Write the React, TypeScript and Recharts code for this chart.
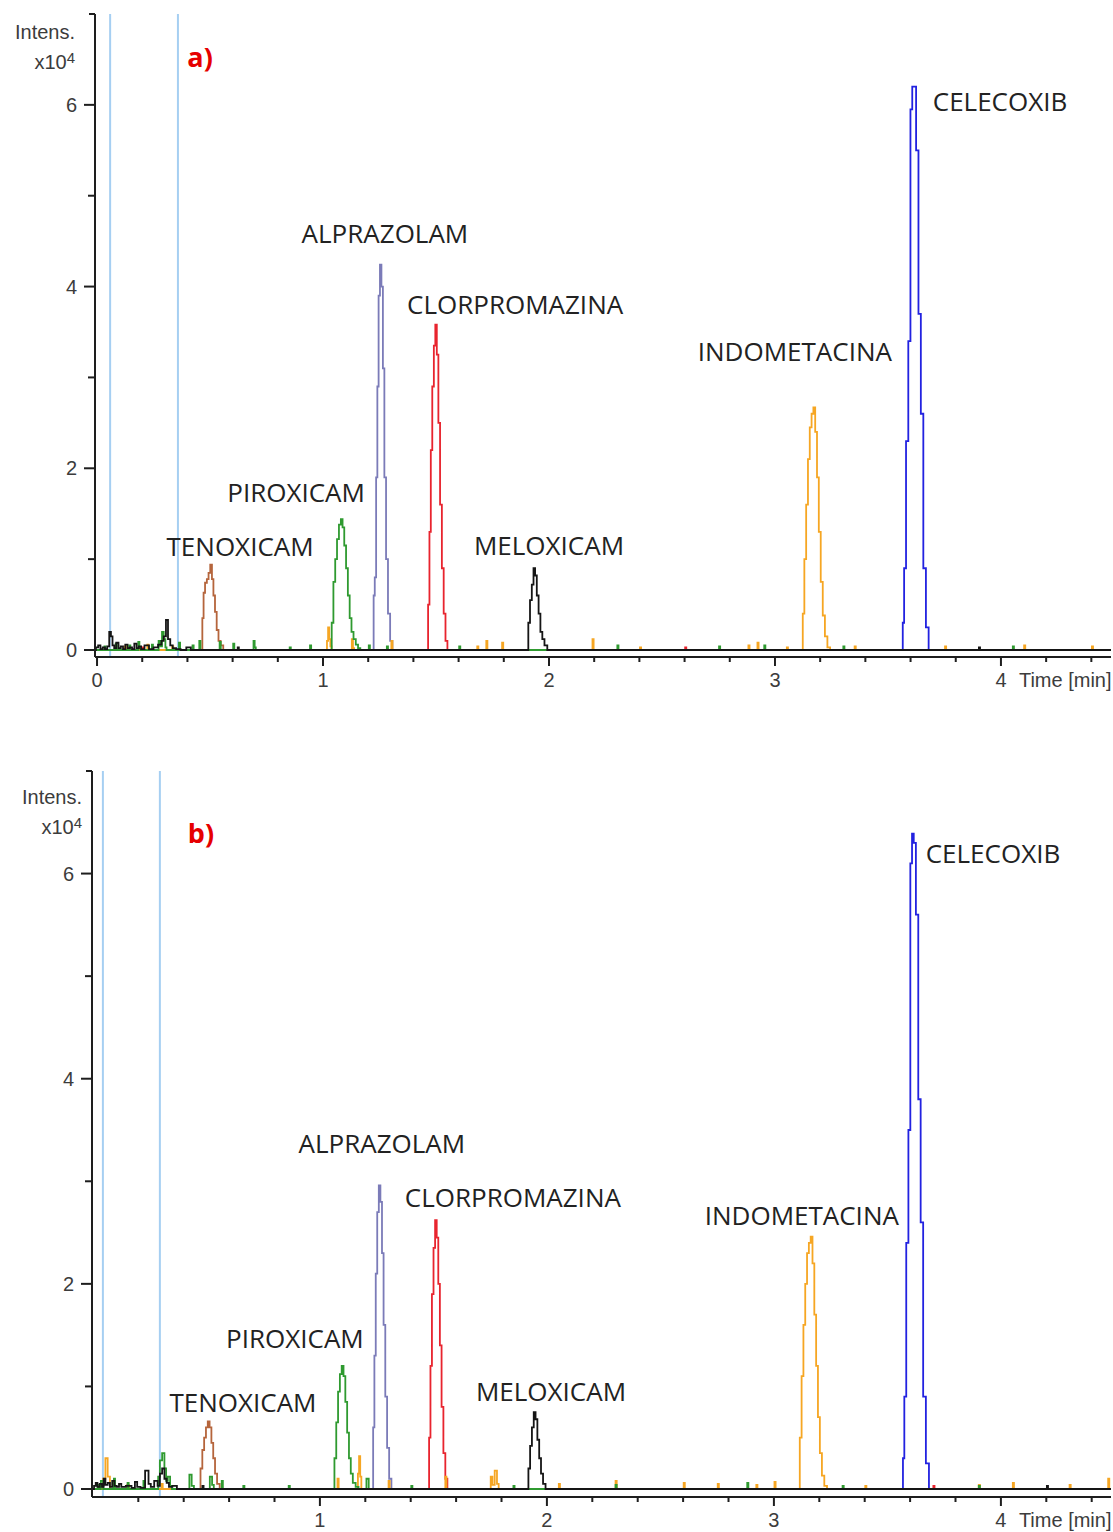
import { LineChart, Line, XAxis, YAxis, ReferenceLine, ReferenceDot } from "recharts";

type Pt = [number, number];

/* ── colours ─────────────────────────────────────────────────────── */

const TENOX = "#b5653c";
const PIROX = "#2f9a30";
const ALPRA = "#7b7bb8";
const CLORP = "#e8242e";
const MELOX = "#151515";
const INDOM = "#f6a623";
const CELEC = "#2222e0";
const MARKER = "#a6cff2";
const AXIS = "#1e1e1e";
const TXT = "#3c3c3c";

/* ── panel a) data (time [min], intensity x10^4) ─────────────────── */

const tenoxicamA: Pt[] = [[-0.01, 0], [0.463, 0], [0.469, 0.35], [0.474, 0.63], [0.482, 0.74], [0.49, 0.78], [0.497, 0.85], [0.505, 0.94], [0.512, 0.78], [0.518, 0.6], [0.526, 0.42], [0.533, 0.22], [0.542, 0.1], [0.552, 0.05], [0.565, 0], [4.487, 0]];

const piroxicamA: Pt[] = [[-0.01, 0], [0.03, 0], [0.035, 0.04], [0.04, 0], [0.08, 0], [0.085, 0.07], [0.09, 0], [0.14, 0], [0.145, 0.05], [0.15, 0], [0.18, 0], [0.185, 0.09], [0.19, 0.02], [0.195, 0], [0.24, 0], [0.245, 0.06], [0.25, 0], [0.27, 0], [0.275, 0.1], [0.285, 0.04], [0.29, 0.2], [0.3, 0.12], [0.305, 0.03], [0.31, 0], [0.36, 0], [0.365, 0.08], [0.37, 0], [0.42, 0], [0.425, 0.05], [0.43, 0], [0.45, 0], [0.455, 0.1], [0.46, 0], [0.54, 0], [0.545, 0.09], [0.55, 0], [0.6, 0], [0.605, 0.07], [0.61, 0], [0.69, 0], [0.695, 0.1], [0.7, 0.03], [0.705, 0], [0.85, 0], [0.855, 0.03], [0.86, 0], [0.94, 0], [0.945, 0.05], [0.95, 0], [1.035, 0], [1.042, 0.3], [1.05, 0.75], [1.058, 1.0], [1.066, 1.22], [1.075, 1.38], [1.083, 1.44], [1.09, 1.35], [1.098, 1.15], [1.106, 0.9], [1.114, 0.6], [1.122, 0.35], [1.13, 0.2], [1.14, 0.12], [1.15, 0.06], [1.16, 0.02], [1.17, 0], [1.2, 0], [1.205, 0.05], [1.21, 0], [1.28, 0], [1.285, 0.04], [1.29, 0], [1.6, 0], [1.605, 0.04], [1.61, 0], [2.3, 0], [2.305, 0.05], [2.31, 0], [2.75, 0], [2.755, 0.04], [2.76, 0], [2.95, 0], [2.955, 0.05], [2.96, 0], [3.3, 0], [3.305, 0.04], [3.31, 0], [4.05, 0], [4.055, 0.04], [4.06, 0], [4.487, 0]];

const alprazolamA: Pt[] = [[-0.01, 0], [1.222, 0], [1.226, 0.6], [1.232, 0.8], [1.238, 1.9], [1.243, 2.9], [1.249, 3.9], [1.255, 4.24], [1.262, 4.0], [1.268, 3.1], [1.275, 1.9], [1.283, 1.0], [1.292, 0.4], [1.302, 0.1], [1.312, 0], [4.487, 0]];

const clorpromazinaA: Pt[] = [[-0.01, 0], [0.2, 0], [0.205, 0.03], [0.21, 0], [1.462, 0], [1.468, 0.5], [1.474, 1.3], [1.48, 2.2], [1.487, 2.9], [1.494, 3.35], [1.5, 3.58], [1.507, 3.25], [1.514, 2.5], [1.522, 1.6], [1.53, 0.9], [1.538, 0.4], [1.546, 0.1], [1.555, 0], [2.6, 0], [2.605, 0.03], [2.61, 0], [4.487, 0]];

const meloxicamA: Pt[] = [[-0.01, 0], [0.0, 0.03], [0.01, 0.05], [0.02, 0.01], [0.03, 0.03], [0.04, 0.01], [0.05, 0.04], [0.058, 0.2], [0.065, 0.15], [0.072, 0.05], [0.08, 0.02], [0.09, 0.08], [0.1, 0.02], [0.11, 0.04], [0.12, 0.01], [0.13, 0.06], [0.14, 0.02], [0.15, 0.03], [0.16, 0.01], [0.17, 0.07], [0.18, 0.02], [0.19, 0.04], [0.2, 0.01], [0.22, 0.05], [0.24, 0.01], [0.26, 0.03], [0.28, 0.06], [0.29, 0.1], [0.3, 0.15], [0.31, 0.33], [0.318, 0.12], [0.33, 0.05], [0.34, 0.02], [0.36, 0.01], [0.38, 0], [0.41, 0.03], [0.42, 0], [0.62, 0], [0.625, 0.03], [0.63, 0], [1.905, 0], [1.912, 0.3], [1.92, 0.55], [1.928, 0.72], [1.935, 0.9], [1.942, 0.82], [1.95, 0.6], [1.958, 0.4], [1.966, 0.2], [1.975, 0.12], [1.985, 0.05], [2.0, 0], [3.9, 0], [3.905, 0.03], [3.91, 0], [4.487, 0]];

const indometacinaA: Pt[] = [[-0.01, 0], [0.12, 0], [0.125, 0.04], [0.13, 0], [0.22, 0], [0.225, 0.06], [0.23, 0], [0.33, 0], [0.335, 0.04], [0.34, 0], [1.015, 0], [1.02, 0.1], [1.025, 0.25], [1.03, 0.12], [1.035, 0.04], [1.04, 0], [1.125, 0], [1.13, 0.12], [1.135, 0.02], [1.14, 0], [1.3, 0], [1.305, 0.1], [1.31, 0], [1.68, 0], [1.685, 0.04], [1.69, 0], [1.72, 0], [1.725, 0.1], [1.73, 0], [1.79, 0], [1.795, 0.08], [1.8, 0], [2.19, 0], [2.195, 0.12], [2.2, 0], [2.4, 0], [2.405, 0.03], [2.41, 0], [2.88, 0], [2.885, 0.05], [2.89, 0], [2.92, 0], [2.925, 0.08], [2.93, 0], [3.05, 0], [3.055, 0.03], [3.06, 0], [3.12, 0], [3.126, 0.4], [3.134, 1.0], [3.142, 1.6], [3.15, 2.1], [3.158, 2.45], [3.166, 2.6], [3.174, 2.67], [3.182, 2.4], [3.19, 1.9], [3.198, 1.3], [3.207, 0.75], [3.216, 0.38], [3.226, 0.15], [3.238, 0.03], [3.25, 0], [3.35, 0], [3.355, 0.04], [3.36, 0], [3.75, 0], [3.755, 0.04], [3.76, 0], [4.1, 0], [4.105, 0.05], [4.11, 0], [4.4, 0], [4.405, 0.04], [4.41, 0], [4.487, 0]];

const celecoxibA: Pt[] = [[-0.01, 0], [3.563, 0], [3.568, 0.3], [3.575, 0.9], [3.585, 2.3], [3.595, 3.4], [3.604, 5.95], [3.611, 6.2], [3.619, 6.2], [3.63, 5.5], [3.64, 3.7], [3.651, 2.6], [3.662, 0.9], [3.674, 0.25], [3.686, 0], [4.487, 0]];

const markersA = [0.058, 0.358];

/* ── panel b) data ───────────────────────────────────────────────── */

const tenoxicamB: Pt[] = [[0, 0], [0.47, 0], [0.478, 0.2], [0.486, 0.38], [0.494, 0.5], [0.502, 0.6], [0.51, 0.66], [0.518, 0.6], [0.526, 0.45], [0.534, 0.3], [0.542, 0.15], [0.552, 0.05], [0.565, 0], [4.485, 0]];

const piroxicamB: Pt[] = [[0, 0], [0.02, 0], [0.025, 0.04], [0.03, 0], [0.04, 0.08], [0.05, 0], [0.09, 0], [0.095, 0.1], [0.1, 0], [0.15, 0], [0.155, 0.06], [0.16, 0], [0.22, 0], [0.225, 0.08], [0.23, 0], [0.285, 0], [0.29, 0.12], [0.3, 0.28], [0.31, 0.35], [0.32, 0.2], [0.325, 0.08], [0.335, 0.12], [0.345, 0.03], [0.35, 0], [0.42, 0], [0.43, 0.14], [0.44, 0.03], [0.45, 0], [0.51, 0], [0.52, 0.12], [0.53, 0.04], [0.535, 0], [0.565, 0], [0.57, 0.08], [0.575, 0], [0.66, 0], [0.665, 0.03], [0.67, 0], [0.86, 0], [0.865, 0.03], [0.87, 0], [1.06, 0], [1.068, 0.3], [1.076, 0.65], [1.084, 0.95], [1.092, 1.12], [1.1, 1.2], [1.108, 1.1], [1.116, 0.85], [1.124, 0.55], [1.132, 0.3], [1.14, 0.15], [1.15, 0.06], [1.165, 0.02], [1.175, 0], [1.2, 0], [1.21, 0.1], [1.22, 0], [1.4, 0], [1.405, 0.03], [1.41, 0], [1.85, 0], [1.855, 0.03], [1.86, 0], [2.3, 0], [2.305, 0.04], [2.31, 0], [2.88, 0], [2.885, 0.06], [2.89, 0], [3.3, 0], [3.305, 0.03], [3.31, 0], [3.9, 0], [3.905, 0.03], [3.91, 0], [4.485, 0]];

const alprazolamB: Pt[] = [[0, 0], [1.232, 0], [1.237, 0.6], [1.243, 1.3], [1.249, 2.1], [1.256, 2.7], [1.263, 2.96], [1.27, 2.8], [1.277, 2.3], [1.284, 1.6], [1.292, 0.9], [1.3, 0.4], [1.31, 0.1], [1.32, 0], [4.485, 0]];

const clorpromazinaB: Pt[] = [[0, 0], [0.15, 0], [0.155, 0.04], [0.16, 0], [1.478, 0], [1.484, 0.5], [1.49, 1.2], [1.497, 1.9], [1.504, 2.35], [1.511, 2.62], [1.518, 2.45], [1.525, 2.0], [1.532, 1.4], [1.54, 0.8], [1.548, 0.35], [1.557, 0.1], [1.566, 0], [3.7, 0], [3.705, 0.03], [3.71, 0], [4.485, 0]];

const meloxicamB: Pt[] = [[0, 0], [0.01, 0.03], [0.015, 0.06], [0.025, 0.02], [0.035, 0.05], [0.045, 0.02], [0.05, 0.1], [0.06, 0.04], [0.07, 0.06], [0.08, 0.02], [0.09, 0.08], [0.1, 0.03], [0.11, 0.02], [0.12, 0.05], [0.13, 0.02], [0.16, 0.03], [0.18, 0.01], [0.19, 0.07], [0.2, 0.02], [0.22, 0.01], [0.24, 0.18], [0.25, 0.05], [0.26, 0.02], [0.28, 0.08], [0.29, 0.03], [0.3, 0.15], [0.31, 0.2], [0.32, 0.1], [0.33, 0.06], [0.34, 0.02], [0.36, 0.03], [0.38, 0], [0.48, 0], [0.485, 0.03], [0.49, 0], [1.915, 0], [1.922, 0.2], [1.93, 0.42], [1.938, 0.6], [1.946, 0.75], [1.954, 0.68], [1.962, 0.48], [1.97, 0.3], [1.978, 0.15], [1.988, 0.05], [2.0, 0], [4.2, 0], [4.205, 0.03], [4.21, 0], [4.485, 0]];

const indometacinaB: Pt[] = [[0, 0], [0.04, 0], [0.05, 0.1], [0.06, 0.3], [0.07, 0.12], [0.08, 0], [0.15, 0], [0.155, 0.04], [0.16, 0], [0.3, 0], [0.305, 0.05], [0.31, 0], [1.075, 0], [1.08, 0.1], [1.085, 0], [1.165, 0], [1.17, 0.15], [1.175, 0.32], [1.18, 0.12], [1.185, 0], [1.3, 0], [1.305, 0.08], [1.31, 0], [1.55, 0], [1.555, 0.12], [1.56, 0], [1.75, 0], [1.755, 0.12], [1.765, 0.04], [1.775, 0.18], [1.785, 0.05], [1.79, 0], [2.05, 0], [2.055, 0.05], [2.06, 0], [2.3, 0], [2.305, 0.08], [2.31, 0], [2.6, 0], [2.605, 0.06], [2.61, 0], [2.75, 0], [2.755, 0.05], [2.76, 0], [2.92, 0], [2.925, 0.04], [2.93, 0], [3.0, 0], [3.005, 0.07], [3.01, 0], [3.11, 0], [3.118, 0.5], [3.126, 1.1], [3.134, 1.6], [3.142, 2.0], [3.15, 2.3], [3.158, 2.4], [3.166, 2.46], [3.174, 2.2], [3.182, 1.7], [3.19, 1.2], [3.198, 0.7], [3.207, 0.35], [3.216, 0.13], [3.228, 0.03], [3.24, 0], [3.4, 0], [3.405, 0.03], [3.41, 0], [3.9, 0], [3.905, 0.04], [3.91, 0], [4.05, 0], [4.055, 0.06], [4.06, 0], [4.3, 0], [4.305, 0.04], [4.31, 0], [4.47, 0], [4.475, 0.1], [4.48, 0], [4.485, 0]];

const celecoxibB: Pt[] = [[0, 0], [3.566, 0], [3.571, 0.3], [3.578, 0.9], [3.588, 2.4], [3.597, 3.5], [3.605, 6.1], [3.612, 6.39], [3.62, 6.3], [3.631, 5.6], [3.641, 3.8], [3.652, 2.6], [3.663, 0.9], [3.676, 0.25], [3.69, 0], [4.485, 0]];

const markersB = [0.044, 0.295];

/* ── axes & annotations ──────────────────────────────────────────── */

const yTicks = [0, 1, 2, 3, 4, 5, 6, 7];
const xTicksA = [0, 0.2, 0.4, 0.6, 0.8, 1, 1.2, 1.4, 1.6, 1.8, 2, 2.2, 2.4, 2.6, 2.8, 3, 3.2, 3.4, 3.6, 3.8, 4, 4.2, 4.4];
const xTicksB = [0.2, 0.4, 0.6, 0.8, 1, 1.2, 1.4, 1.6, 1.8, 2, 2.2, 2.4, 2.6, 2.8, 3, 3.2, 3.4, 3.6, 3.8, 4, 4.2, 4.4];

const labelNames = ["TENOXICAM", "PIROXICAM", "ALPRAZOLAM", "CLORPROMAZINA", "MELOXICAM", "INDOMETACINA", "CELECOXIB"];
const labelSpotsA: Pt[] = [[0.633, 1.14], [0.881, 1.74], [1.274, 4.59], [1.85, 3.81], [2.0, 1.16], [3.088, 3.29], [3.996, 6.04]];
const labelSpotsB: Pt[] = [[0.661, 0.85], [0.89, 1.47], [1.273, 3.37], [1.85, 2.85], [2.018, 0.96], [3.123, 2.67], [3.965, 6.2]];

type Trace = { name: string; color: string; points: Pt[] };

const tracesA: Trace[] = [
  { name: "tenoxicam", color: TENOX, points: tenoxicamA },
  { name: "alprazolam", color: ALPRA, points: alprazolamA },
  { name: "clorpromazina", color: CLORP, points: clorpromazinaA },
  { name: "celecoxib", color: CELEC, points: celecoxibA },
  { name: "indometacina", color: INDOM, points: indometacinaA },
  { name: "piroxicam", color: PIROX, points: piroxicamA },
  { name: "meloxicam", color: MELOX, points: meloxicamA },
];

const tracesB: Trace[] = [
  { name: "tenoxicam", color: TENOX, points: tenoxicamB },
  { name: "alprazolam", color: ALPRA, points: alprazolamB },
  { name: "clorpromazina", color: CLORP, points: clorpromazinaB },
  { name: "celecoxib", color: CELEC, points: celecoxibB },
  { name: "indometacina", color: INDOM, points: indometacinaB },
  { name: "piroxicam", color: PIROX, points: piroxicamB },
  { name: "meloxicam", color: MELOX, points: meloxicamB },
];

const toRows = (pts: Pt[]) => pts.map(([t, v]) => ({ t, v }));

const tickFont = { fontFamily: "'Liberation Sans', Arial, sans-serif", fontSize: 20, fill: TXT };

function YTick({ x, y, payload }: any) {
  const v = payload.value;
  const len = v === 7 ? 6 : v % 2 === 0 ? 11 : 7;
  return (
    <g>
      <line x1={x - len} x2={x} y1={y} y2={y} stroke={AXIS} strokeWidth={2} />
      {v % 2 === 0 && (
        <text x={x - 18} y={y} dominantBaseline="central" textAnchor="end" {...tickFont}>
          {v}
        </text>
      )}
    </g>
  );
}

function XTick({ x, y, payload }: any) {
  const v = payload.value;
  const major = Number.isInteger(v);
  return (
    <g>
      <line x1={x} x2={x} y1={y} y2={y + (major ? 9 : 5)} stroke={AXIS} strokeWidth={2} />
      {major && (
        <text x={x} y={y + 23} dominantBaseline="central" textAnchor="middle" {...tickFont}>
          {v}
        </text>
      )}
      {v === 4 && (
        <text x={x + 18} y={y + 23} dominantBaseline="central" textAnchor="start" {...tickFont}>
          Time [min]
        </text>
      )}
    </g>
  );
}

function Chromatogram({
  traces,
  markers,
  spots,
  tag,
  tagSpot,
  xDomain,
  xTicks,
  yMin,
  height,
  margin,
}: {
  traces: Trace[];
  markers: number[];
  spots: Pt[];
  tag: string;
  tagSpot: Pt;
  xDomain: [number, number];
  xTicks: number[];
  yMin: number;
  height: number;
  margin: { top: number; right: number; bottom: number; left: number };
}) {
  return (
    <LineChart width={1113} height={height} margin={margin}>
      <XAxis
        type="number"
        dataKey="t"
        domain={xDomain}
        ticks={xTicks}
        interval={0}
        allowDataOverflow
        height={30}
        tickSize={0}
        tickMargin={0}
        tickLine={false}
        axisLine={{ stroke: AXIS, strokeWidth: 2 }}
        tick={(p: any) => <XTick {...p} />}
      />
      <YAxis
        type="number"
        domain={[yMin, 7]}
        ticks={yTicks}
        interval={0}
        allowDataOverflow
        width={60}
        tickSize={0}
        tickMargin={0}
        tickLine={false}
        axisLine={{ stroke: AXIS, strokeWidth: 2 }}
        tick={(p: any) => <YTick {...p} />}
      />
      {markers.map((m) => (
        <ReferenceLine key={m} x={m} stroke={MARKER} strokeWidth={2} />
      ))}
      {traces.map((tr) => (
        <Line
          key={tr.name}
          data={toRows(tr.points)}
          dataKey="v"
          type="step"
          stroke={tr.color}
          strokeWidth={1.8}
          dot={false}
          isAnimationActive={false}
        />
      ))}
      {spots.map(([t, v], i) => (
        <ReferenceDot
          key={labelNames[i]}
          x={t}
          y={v}
          r={0}
          shape={(p: any) => (
            <text
              x={p.cx}
              y={p.cy}
              textAnchor="middle"
              dominantBaseline="central"
              fontFamily="'Open Sans', sans-serif"
              fontSize={26}
              fill="#222"
            >
              {labelNames[i]}
            </text>
          )}
        />
      ))}
      <ReferenceDot
        x={tagSpot[0]}
        y={tagSpot[1]}
        r={0}
        shape={(p: any) => (
          <text
            x={p.cx}
            y={p.cy}
            textAnchor="middle"
            dominantBaseline="central"
            fontFamily="'Open Sans', sans-serif"
            fontWeight={700}
            fontSize={27}
            fill="#e60000"
          >
            {tag}
          </text>
        )}
      />
    </LineChart>
  );
}

function IntensLabel({ top, right }: { top: number; right: number }) {
  const s: React.CSSProperties = {
    position: "absolute",
    left: 0,
    width: right,
    textAlign: "right",
    fontFamily: "'Liberation Sans', Arial, sans-serif",
    fontSize: 20,
    lineHeight: "22px",
    color: TXT,
  };
  return (
    <>
      <div style={{ ...s, top }}>Intens.</div>
      <div style={{ ...s, top: top + 26 }}>
        x10<sup style={{ fontSize: 15, verticalAlign: "6px" }}>4</sup>
      </div>
    </>
  );
}

export default function App() {
  return (
    <div style={{ position: "absolute", left: 0, top: 0, width: 1113, height: 1532, background: "#fff" }}>
      <div style={{ position: "absolute", left: 0, top: 0 }}>
        <Chromatogram
          traces={tracesA}
          markers={markersA}
          spots={labelSpotsA}
          tag="a)"
          tagSpot={[0.456, 6.53]}
          xDomain={[-0.009, 4.487]}
          xTicks={xTicksA}
          yMin={-0.077}
          height={700}
          margin={{ top: 14, right: 2, bottom: 13, left: 35 }}
        />
      </div>
      <div style={{ position: "absolute", left: 0, top: 720 }}>
        <Chromatogram
          traces={tracesB}
          markers={markersB}
          spots={labelSpotsB}
          tag="b)"
          tagSpot={[0.476, 6.4]}
          xDomain={[-0.004, 4.485]}
          xTicks={xTicksB}
          yMin={-0.078}
          height={812}
          margin={{ top: 51, right: 2, bottom: 5, left: 32 }}
        />
      </div>
      <IntensLabel top={21} right={75} />
      <IntensLabel top={786} right={82} />
    </div>
  );
}
